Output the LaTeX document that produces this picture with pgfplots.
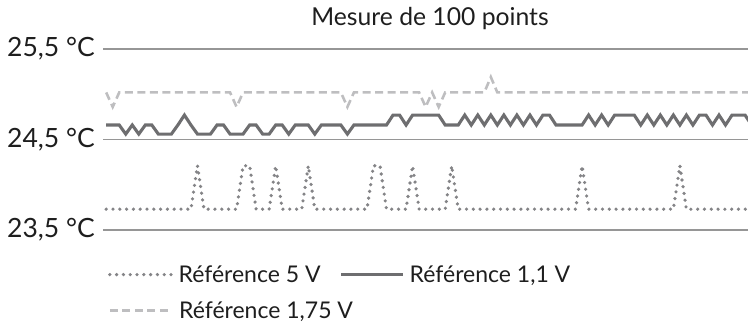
\documentclass[border=0pt]{standalone}
\usepackage{fontspec}
\setmainfont{Lato}
\usepackage{pgfplots}
\usepackage{pgfplotstable}
\pgfplotsset{compat=1.18}
\definecolor{txt}{RGB}{30,30,30}
\definecolor{gridc}{RGB}{150,150,150}
\definecolor{dotc}{RGB}{132,132,135}
\definecolor{solc}{RGB}{110,110,112}
\definecolor{dashc}{RGB}{190,190,192}
\pgfplotstableread{
x t s d
0 23.73 24.66 25.02
1 23.73 24.66 24.86
2 23.73 24.66 25.02
3 23.73 24.56 25.02
4 23.73 24.66 25.02
5 23.73 24.56 25.02
6 23.73 24.66 25.02
7 23.73 24.66 25.02
8 23.73 24.56 25.02
9 23.73 24.56 25.02
10 23.73 24.56 25.02
11 23.73 24.66 25.02
12 23.73 24.77 25.02
13 23.73 24.66 25.02
14 24.21 24.56 25.02
15 23.73 24.56 25.02
16 23.73 24.56 25.02
17 23.73 24.66 25.02
18 23.73 24.66 25.02
19 23.73 24.56 25.02
20 23.73 24.56 24.86
21 24.21 24.56 25.02
22 24.21 24.66 25.02
23 23.73 24.66 25.02
24 23.73 24.56 25.02
25 23.73 24.56 25.02
26 24.21 24.66 25.02
27 23.73 24.66 25.02
28 23.73 24.56 25.02
29 23.73 24.66 25.02
30 23.73 24.66 25.02
31 24.21 24.66 25.02
32 23.73 24.56 25.02
33 23.73 24.66 25.02
34 23.73 24.66 25.02
35 23.73 24.66 25.02
36 23.73 24.66 25.02
37 23.73 24.56 24.86
38 23.73 24.66 25.02
39 23.73 24.66 25.02
40 23.73 24.66 25.02
41 24.21 24.66 25.02
42 24.21 24.66 25.02
43 23.73 24.66 25.02
44 23.73 24.77 25.02
45 23.73 24.77 25.02
46 23.73 24.66 25.02
47 24.21 24.77 25.02
48 23.73 24.77 25.02
49 23.73 24.77 24.86
50 23.73 24.77 25.02
51 23.73 24.77 24.86
52 23.73 24.66 25.02
53 24.21 24.66 25.02
54 23.73 24.66 25.02
55 23.73 24.77 25.02
56 23.73 24.66 25.02
57 23.73 24.77 25.02
58 23.73 24.66 25.02
59 23.73 24.77 25.19
60 23.73 24.66 25.02
61 23.73 24.77 25.02
62 23.73 24.66 25.02
63 23.73 24.77 25.02
64 23.73 24.66 25.02
65 23.73 24.77 25.02
66 23.73 24.66 25.02
67 23.73 24.77 25.02
68 23.73 24.77 25.02
69 23.73 24.66 25.02
70 23.73 24.66 25.02
71 23.73 24.66 25.02
72 23.73 24.66 25.02
73 24.21 24.66 25.02
74 23.73 24.77 25.02
75 23.73 24.66 25.02
76 23.73 24.77 25.02
77 23.73 24.66 25.02
78 23.73 24.77 25.02
79 23.73 24.77 25.02
80 23.73 24.77 25.02
81 23.73 24.77 25.02
82 23.73 24.66 25.02
83 23.73 24.77 25.02
84 23.73 24.66 25.02
85 23.73 24.77 25.02
86 23.73 24.66 25.02
87 23.73 24.77 25.02
88 24.21 24.66 25.02
89 23.73 24.77 25.02
90 23.73 24.66 25.02
91 23.73 24.77 25.02
92 23.73 24.77 25.02
93 23.73 24.66 25.02
94 23.73 24.77 25.02
95 23.73 24.66 25.02
96 23.73 24.77 25.02
97 23.73 24.77 25.02
98 23.73 24.77 25.02
99 23.73 24.66 25.02
}\data
\begin{document}
\begin{tikzpicture}[font=\fontsize{23bp}{28bp}\selectfont, text=txt]
\useasboundingbox (0,0) rectangle (748bp,322bp);
\begin{axis}[
  at={(103bp,92bp)}, anchor=south west,
  scale only axis, width=645bp, height=181bp,
  xmin=-0.49, xmax=98.45, ymin=23.5, ymax=25.5,
  axis line style={draw=none},
  major tick length=0pt,
  xtick=\empty,
  ytick={23.5,24.5,25.5},
  yticklabels={{23,5 °C},{24,5 °C},{25,5 °C}},
  yticklabel style={anchor=east, inner sep=0pt, xshift=-8bp, text=txt, font=\fontsize{26.5bp}{30bp}\selectfont},
  ymajorgrids, grid style={gridc, line width=1.5bp},
  title={Mesure de 100 points},
  title style={anchor=base, at={(axis description cs:0.507,1)}, yshift=18bp, inner sep=0pt, text=txt, font=\fontsize{24.7bp}{30bp}\selectfont},
  legend columns=2,
  legend cell align=left,
  legend style={draw=none, fill=none, inner sep=0pt, outer sep=0pt,
    at={(axis description cs:0.0078,-0.185)}, anchor=north west,
    nodes={inner xsep=0pt},
    column sep=5bp,
    row sep=14bp, text=txt},
  legend image code/.code={\draw[#1] (0bp,0bp) -- (62bp,0bp);},
]
\addplot[dotc, line width=3.6bp, line cap=round, dash pattern=on 0bp off 6.8bp] table[x=x,y=t]{\data};
\addlegendentry{\makebox[156bp][l]{Référence 5 V}}
\addplot[solc, line width=3.1bp, line join=miter] table[x=x,y=s]{\data};
\addlegendentry{Référence 1,1 V}
\addplot[dashc, line width=2.6bp, dash pattern=on 8bp off 4.5bp] table[x=x,y=d]{\data};
\addlegendentry{\rlap{Référence 1,75 V}}
\end{axis}
\end{tikzpicture}
\end{document}
